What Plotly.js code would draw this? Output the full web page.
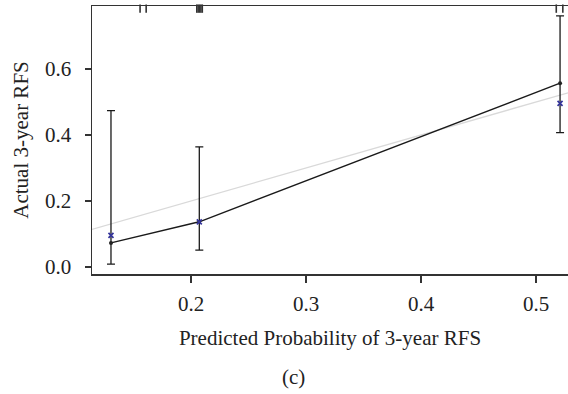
<!DOCTYPE html>
<html>
<head>
<meta charset="utf-8">
<script src="https://cdn.plot.ly/plotly-3.0.1.min.js"></script>
<style>html,body{margin:0;padding:0;background:#fff;}#chart{width:568px;height:394px;}</style>
</head>
<body>
<div id="chart"></div>
<script>
// Predicted probability groups
const predicted = [0.1304, 0.2072, 0.5209];
// Observed (Kaplan-Meier) 3-year RFS
const observed = [0.073, 0.137, 0.557];
const ciLower = [0.009, 0.051, 0.407];
const ciUpper = [0.474, 0.364, 0.761];
// Bias-corrected estimates (blue x)
const corrected = [0.096, 0.137, 0.496];
// Rug of predicted values along the top
const rugX = [0.1557, 0.1610, 0.2050, 0.2062, 0.2074, 0.2086, 0.2098, 0.5176, 0.5233];
const rugY = rugX.map(() => 0.783);
// Ideal line endpoints
const idealX = [0.10, 0.55];
const idealY = [0.10, 0.55];

const font = "'Liberation Serif', 'DejaVu Serif', serif";
const fs = 21;

const traces = [
  {x: idealX, y: idealY, mode: 'lines', line: {color: '#d9d9d9', width: 1.3}, hoverinfo: 'skip'},
  {x: predicted, y: observed, mode: 'lines', line: {color: '#1a1a1a', width: 1.4}},
  {x: predicted, y: observed, mode: 'markers',
   marker: {color: '#222', size: 4, symbol: 'circle'},
   error_y: {type: 'data', symmetric: false,
     array: observed.map((v, i) => ciUpper[i] - v),
     arrayminus: observed.map((v, i) => v - ciLower[i]),
     color: '#1a1a1a', thickness: 1.3, width: 4}},
  {x: predicted, y: corrected, mode: 'markers',
   marker: {color: '#33339a', size: 5, symbol: 'x-thin', line: {color: '#33339a', width: 1.7}}},
  {x: rugX, y: rugY, mode: 'markers', cliponaxis: false,
   marker: {symbol: 'line-ns', size: 6, line: {color: '#333', width: 1.6}}}
];

const layout = {
  width: 568, height: 394,
  margin: {l: 92, r: 0, t: 6, b: 120},
  paper_bgcolor: '#fff', plot_bgcolor: '#fff',
  showlegend: false,
  font: {family: font, size: fs, color: '#222'},
  xaxis: {
    range: [0.1139, 0.5278],
    tickvals: [0.2, 0.3, 0.4, 0.5], ticktext: ['0.2', '0.3', '0.4', '0.5'],
    ticks: 'outside', ticklen: 7, tickwidth: 1.2, tickcolor: '#333',
    showline: true, linecolor: '#333', linewidth: 1.5, mirror: true,
    showgrid: false, zeroline: false,
    ticklabelstandoff: 3,
    title: {text: 'Predicted Probability of 3-year RFS', font: {family: font, size: fs, color: '#222'}, standoff: 15}
  },
  yaxis: {
    range: [-0.0212, 0.7909],
    tickvals: [0, 0.2, 0.4, 0.6], ticktext: ['0.0', '0.2', '0.4', '0.6'],
    ticks: 'outside', ticklen: 6, tickwidth: 1.2, tickcolor: '#333',
    showline: true, linecolor: '#333', linewidth: 1.5,
    showgrid: false, zeroline: false,
    ticklabelstandoff: 9,
    title: {text: 'Actual 3-year RFS', font: {family: font, size: fs, color: '#222'}, standoff: 10}
  },
  annotations: [
    {text: '(c)', xref: 'paper', yref: 'paper', x: (293 - 92) / 476, y: -(377 - 274) / 268,
     showarrow: false, xanchor: 'center', yanchor: 'middle', font: {family: font, size: fs, color: '#222'}}
  ]
};

Plotly.newPlot('chart', traces, layout, {displayModeBar: false, staticPlot: true});
</script>
</body>
</html>
